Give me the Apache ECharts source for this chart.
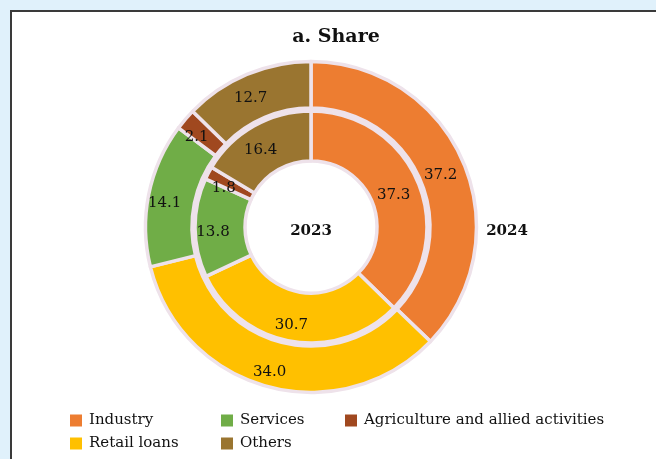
<!DOCTYPE html>
<html>
<head>
<meta charset="utf-8">
<script src="https://cdn.jsdelivr.net/npm/echarts@6/dist/echarts.min.js"></script>
<style>
  html, body { margin: 0; padding: 0; background: #e0f1fb; }
  #panel { position: absolute; left: 10px; top: 10px; width: 700px; height: 500px;
           background: #ffffff; border-left: 2px solid #3a3a3a; border-top: 2px solid #3a3a3a; }
  #chart { position: absolute; left: 0; top: 0; width: 656px; height: 459px; }
</style>
</head>
<body>
<div id="panel"></div>
<div id="chart"></div>
<script>
// Loan portfolio share by sector (per cent)
const categories = ['Industry', 'Retail loans', 'Services', 'Agriculture and allied activities', 'Others'];
const colors = ['#ed7d31', '#ffc000', '#70ad47', '#a0481f', '#9a7530'];
const share2023 = [37.3, 30.7, 13.8, 1.8, 16.4];
const share2024 = [37.2, 34.0, 14.1, 2.1, 12.7];

const FONT = 'DejaVu Serif';

function ring(name, values, radius) {
  return {
    name: name,
    type: 'pie',
    center: [311, 227],
    radius: radius,
    startAngle: 90,
    clockwise: true,
    avoidLabelOverlap: false,
    silent: true,
    itemStyle: { borderColor: '#eee2ea', borderWidth: 3.5 },
    label: {
      show: true,
      position: 'inside',
      color: '#111',
      fontFamily: FONT,
      fontSize: 15,
      offset: [-4, 5],
      formatter: p => p.value.toFixed(1)
    },
    labelLine: { show: false },
    data: categories.map((c, i) => ({ name: c, value: values[i], itemStyle: { color: colors[i] } }))
  };
}

// legend laid out as a small grid: [category index, left, top]
const legendCells = [[0, 70, 413], [1, 70, 436], [2, 221, 413], [4, 221, 436], [3, 345, 413]];

const chart = echarts.init(document.getElementById('chart'), null, { renderer: 'canvas' });
chart.setOption({
  backgroundColor: 'transparent',
  animation: false,
  legend: legendCells.map(([i, l, t]) => ({
    left: l,
    top: t,
    padding: 0,
    itemWidth: 12,
    itemHeight: 12,
    icon: 'rect',
    selectedMode: false,
    itemStyle: { borderWidth: 0 },
    textStyle: { fontFamily: FONT, fontSize: 15, color: '#111', padding: [0, 0, 0, 2] },
    data: [categories[i]]
  })),
  graphic: [
    { type: 'text', position: [336, 37], style: { text: 'a. Share', align: 'center', verticalAlign: 'middle',
      font: 'bold 19px "DejaVu Serif"', fill: '#111' } },
    { type: 'text', position: [311, 231], style: { text: '2023', align: 'center', verticalAlign: 'middle',
      font: 'bold 15px "DejaVu Serif"', fill: '#111' } },
    { type: 'text', position: [507, 231], style: { text: '2024', align: 'center', verticalAlign: 'middle',
      font: 'bold 15px "DejaVu Serif"', fill: '#111' } }
  ],
  series: [
    ring('2023', share2023, [66, 116]),
    ring('2024', share2024, [119, 165.5])
  ]
});
</script>
</body>
</html>
